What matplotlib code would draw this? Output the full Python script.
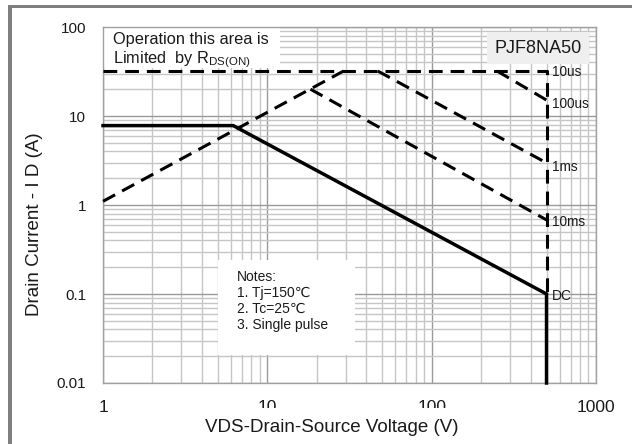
import matplotlib
matplotlib.use("Agg")
import matplotlib.pyplot as plt
from matplotlib.patches import Rectangle
from matplotlib.ticker import LogLocator, NullFormatter, FixedLocator

plt.rcParams['font.family'] = ['Liberation Sans', 'DejaVu Sans', 'Noto Sans CJK SC']
plt.rcParams['mathtext.fontset'] = 'custom'
plt.rcParams['mathtext.rm'] = 'Liberation Sans'
plt.rcParams['mathtext.it'] = 'Liberation Sans'

# ---- data ----
x_ticks = [1, 10, 100, 1000]
x_tick_labels = ["1", "10", "100", "1000"]
y_ticks = [0.01, 0.1, 1, 10, 100]
y_tick_labels = ["0.01", "0.1", "1", "10", "100"]

rds_v = [1, 29.1]
rds_i = [1.1, 32]
us10_v = [1, 500, 500]
us10_i = [32, 32, 0.1]
us100_v = [250, 500]
us100_i = [32, 15.1]
ms1_v = [47, 500]
ms1_i = [32, 2.97]
ms10_v = [18.3, 500]
ms10_i = [20, 0.68]
dc_v = [1, 6.2, 500, 500]
dc_i = [7.8, 7.8, 0.1, 0.01]

labels = ["10us", "100us", "1ms", "10ms", "DC"]
label_i = [32, 15.1, 2.97, 0.68, 0.1]
label_dy = [-1, -4, -4, -2, -2]

TXT = '#1a1a1a'

fig = plt.figure(figsize=(6.32, 4.44), dpi=100)
fig.patch.set_facecolor('white')
ax = fig.add_axes([103/632, 1-383/444, 493/632, 356/444])

ax.set_xscale('log')
ax.set_yscale('log')
ax.set_xlim(1, 1000)
ax.set_ylim(0.01, 100)

ax.xaxis.set_major_locator(FixedLocator(x_ticks))
ax.set_xticklabels(x_tick_labels)
ax.yaxis.set_major_locator(FixedLocator(y_ticks))
ax.set_yticklabels(y_tick_labels)
ax.xaxis.set_minor_locator(LogLocator(base=10, subs=range(2, 10)))
ax.yaxis.set_minor_locator(LogLocator(base=10, subs=range(2, 10)))
ax.xaxis.set_minor_formatter(NullFormatter())
ax.yaxis.set_minor_formatter(NullFormatter())
ax.tick_params(which='both', length=0)
ax.tick_params(axis='x', labelsize=12.5, pad=12, colors=TXT)
ax.tick_params(axis='y', labelsize=11, pad=12, colors=TXT)

ax.grid(which='major', color='#9a9a9a', lw=1.0)
ax.grid(which='minor', color='#c6c6c6', lw=1.0)
ax.set_axisbelow(True)
for s in ax.spines.values():
    s.set_color('#a0a0a0')
    s.set_linewidth(1.0)

# white / grey boxes
ax.add_patch(Rectangle((0.002, 0.885), 0.357, 0.115, transform=ax.transAxes,
                       facecolor='white', edgecolor='none', zorder=1.5))
ax.add_patch(Rectangle((0.779, 0.896), 0.207, 0.090, transform=ax.transAxes,
                       facecolor='#efefef', edgecolor='none', zorder=1.5))
ax.add_patch(Rectangle((0.233, 0.0787), 0.278, 0.267, transform=ax.transAxes,
                       facecolor='white', edgecolor='none', zorder=1.5))

dash = (4.5, 2.6)
lw = 2.2
for v, i in [(rds_v, rds_i), (us10_v, us10_i), (us100_v, us100_i),
             (ms1_v, ms1_i), (ms10_v, ms10_i)]:
    ax.plot(v, i, color='black', lw=lw, ls=(0, dash), zorder=3, solid_capstyle='butt',
            dash_capstyle='butt', clip_on=False)
ax.plot(dc_v, dc_i, color='black', lw=2.5, zorder=3, solid_joinstyle='miter', clip_on=False)

for lab, iv, dy in zip(labels, label_i, label_dy):
    ax.annotate(lab, xy=(500, iv), xytext=(5, dy), textcoords='offset pixels',
                ha='left', va='center', fontsize=10 if lab == 'DC' else 9.8, color=TXT, zorder=4)

ax.text(0.0203, 0.985, "Operation this area is\nLimited  by R$_{\\mathrm{DS(ON)}}$",
        transform=ax.transAxes, ha='left', va='top', fontsize=11.8, color=TXT,
        linespacing=1.15, zorder=4)
ax.text(0.882, 0.941, "PJF8NA50", transform=ax.transAxes, ha='center', va='center',
        fontsize=13, color=TXT, zorder=4)
ax.text(0.272, 0.318, "Notes:\n1. Tj=150\u2103\n2. Tc=25\u2103\n3. Single pulse",
        transform=ax.transAxes, ha='left', va='top', fontsize=10, color=TXT,
        linespacing=1.2, zorder=4)

# axis labels
ax.text((331.5-103)/493, -(428-383)/356, "VDS-Drain-Source Voltage (V)",
        transform=ax.transAxes, ha='center', va='center', fontsize=13.5, color=TXT,
        bbox=dict(boxstyle='square,pad=0.62', facecolor='white', edgecolor='none'),
        clip_on=False, zorder=5)
ax.text((35-103)/493, 1-(224.5-27)/356, "Drain Current - I D (A)",
        transform=ax.transAxes, ha='center', va='center', rotation=90, fontsize=13.5,
        color=TXT, clip_on=False, zorder=5)

# figure frame bands (top and left)
fig.patches.append(Rectangle((8/632, 1-8/444), 1-8/632, 3/444, transform=fig.transFigure,
                             facecolor='#7f7f7f', edgecolor='none'))
fig.patches.append(Rectangle((8/632, 0), 4/632, 1-5/444, transform=fig.transFigure,
                             facecolor='#7f7f7f', edgecolor='none'))

fig.savefig('out.png', dpi=100)
